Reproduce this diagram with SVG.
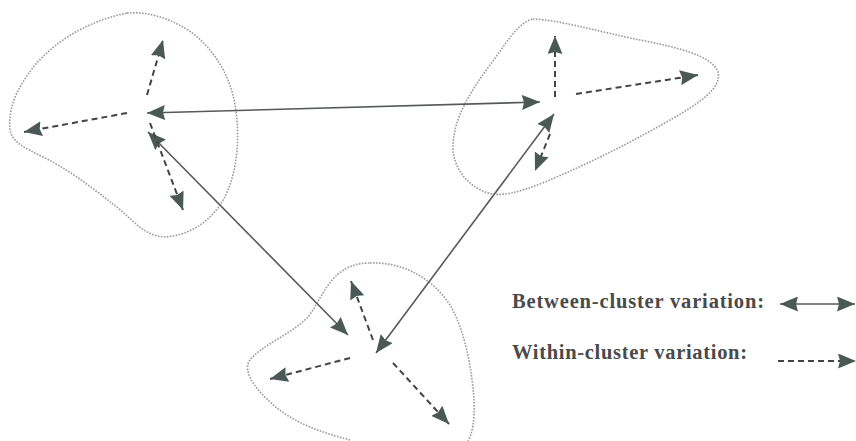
<svg xmlns="http://www.w3.org/2000/svg" width="856" height="441" viewBox="0 0 856 441">
<style>
.blob{fill:none;stroke:#9a9a9a;stroke-width:1.6;stroke-dasharray:1.6 1.4}
.between{fill:none;stroke:#555a58;stroke-width:1.6;marker-start:url(#ahs);marker-end:url(#ah)}
.within{fill:none;stroke:#444;stroke-width:2;stroke-dasharray:6 4;marker-end:url(#ah)}
.lbl{font-family:"Liberation Serif","Times New Roman",serif;font-weight:bold;font-size:20.5px;fill:#4a4a4a}
</style>
<defs>
<marker id="ah" viewBox="0 0 18 15" refX="18" refY="7.5" markerWidth="18" markerHeight="15" markerUnits="userSpaceOnUse" orient="auto">
<path d="M0,0 L18,7.5 L0,15 L2,7.5 z" fill="#4a5955"/>
</marker>
<marker id="ahs" viewBox="0 0 18 15" refX="18" refY="7.5" markerWidth="18" markerHeight="15" markerUnits="userSpaceOnUse" orient="auto-start-reverse">
<path d="M0,0 L18,7.5 L0,15 L2,7.5 z" fill="#4a5955"/>
</marker>
</defs>
<rect width="856" height="441" fill="#fff"/>
<g id="cluster1">
<path class="blob" d="M127,13 C150,11 175,20 195,35 C215,52 230,75 235,105 C240,135 238,165 228,190 C218,215 195,235 165,237 C145,236 135,222 118,208 C95,190 70,170 43,157 C25,148 12,142 10,130 C8,110 15,90 35,65 C55,42 85,22 127,13 z"/>
</g>
<g id="cluster2">
<path class="blob" d="M533,19 C560,20 600,32 640,40 C675,47 712,55 718,72 C722,88 700,103 670,120 C630,143 590,163 545,182 C520,192 500,198 485,192 C465,184 452,165 453,145 C454,118 470,92 490,65 C505,45 518,22 533,19 z"/>
</g>
<g id="cluster3">
<path class="blob" d="M370,263 C400,262 430,275 450,305 C465,330 472,370 474,400 C475,420 472,435 468,441 M350,440 C320,432 290,422 268,400 C252,385 243,370 250,360 C262,345 290,335 307,318 C320,303 325,280 347,268 C355,264 362,263 370,263"/>
</g>
<g id="connectors">
<line class="between" x1="147" y1="113" x2="540" y2="102"/>
<line class="between" x1="148" y1="132" x2="348" y2="335"/>
<line class="between" x1="376" y1="353" x2="554" y2="114"/>
<line class="within" x1="147" y1="95" x2="163" y2="40"/>
<line class="within" x1="127" y1="113" x2="24" y2="132"/>
<line class="within" x1="150" y1="123" x2="183" y2="210"/>
<line class="within" x1="555" y1="97" x2="555" y2="36"/>
<line class="within" x1="576" y1="94" x2="698" y2="75"/>
<line class="within" x1="550" y1="134" x2="535" y2="171"/>
<line class="within" x1="373" y1="340" x2="351" y2="281"/>
<line class="within" x1="350" y1="358" x2="270" y2="379"/>
<line class="within" x1="393" y1="363" x2="449" y2="424"/>
</g>
<g id="legend">
<text class="lbl" x="512" y="308" textLength="252" lengthAdjust="spacing">Between-cluster variation:</text>
<text class="lbl" x="512" y="359" textLength="235" lengthAdjust="spacing">Within-cluster variation:</text>
<line class="between" x1="780" y1="304" x2="855" y2="304"/>
<line class="within" x1="778" y1="361" x2="856" y2="361"/>
</g>
</svg>
